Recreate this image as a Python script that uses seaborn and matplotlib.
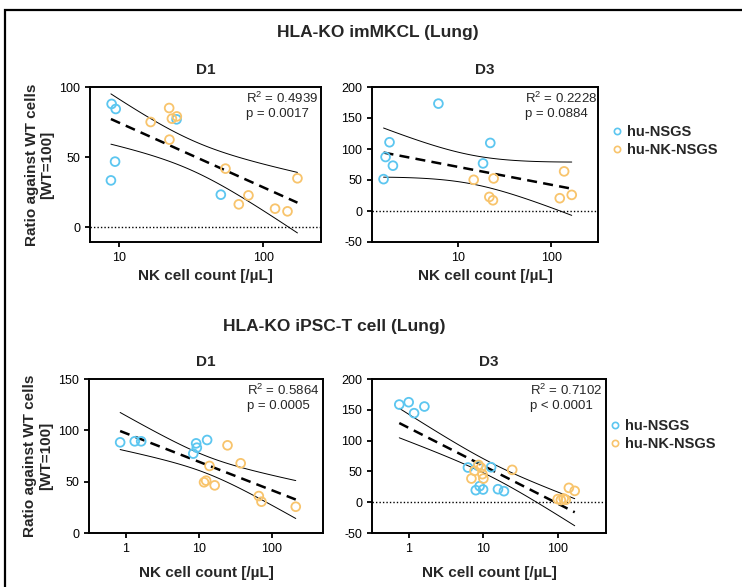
"""NK cell count vs ratio against WT cells, HLA-KO imMKCL / iPSC-T cell (Lung)."""

import numpy as np
import pandas as pd
import matplotlib

matplotlib.use("Agg")
import matplotlib.pyplot as plt
import seaborn as sns
from matplotlib.lines import Line2D
from matplotlib.patches import Rectangle

# imMKCL, D1
mk_d1_nsgs_x = [8.9, 9.5, 9.4, 8.8, 25.1, 50.9]
mk_d1_nsgs_y = [87.9, 84.3, 46.7, 33.3, 76.9, 23.1]
mk_d1_nk_x = [16.6, 22.3, 23.3, 25.2, 22.4, 54.8, 67.8, 79.1, 121, 147.6, 173]
mk_d1_nk_y = [75, 85, 77.4, 79, 62.4, 41.7, 16.2, 22.6, 13.1, 11.2, 34.8]

# imMKCL, D3
mk_d3_nsgs_x = [1.57, 1.65, 1.82, 1.98, 6.1, 18.4, 22.0]
mk_d3_nsgs_y = [51.4, 87.1, 110.9, 73.1, 173.2, 76.8, 109.8]
mk_d3_nk_x = [14.6, 23.9, 21.5, 23.5, 122.7, 136.7, 165]
mk_d3_nk_y = [50.3, 52.5, 22.7, 17.3, 20.6, 63.9, 26.0]

# iPSC-T, D1
t_d1_nsgs_x = [0.84, 1.33, 1.63, 8.4, 9.2, 9.4, 13.0]
t_d1_nsgs_y = [88.3, 89.3, 89.3, 77.3, 87.3, 83.1, 90.6]
t_d1_nk_x = [24.7, 37.4, 14.0, 12.6, 11.8, 16.5, 66.2, 72.0, 212]
t_d1_nk_y = [85.4, 67.9, 65.3, 51.0, 49.4, 46.4, 36.0, 30.5, 25.6]

# iPSC-T, D3
t_d3_nsgs_x = [0.74, 0.99, 1.17, 1.61, 6.2, 8.5, 12.7, 8.9, 7.9, 9.9, 15.7, 18.9]
t_d3_nsgs_y = [158.5, 162.3, 144.5, 155.3, 56.3, 59.0, 56.8, 26.0, 19.5, 20.6, 21.1, 17.9]
t_d3_nk_x = [6.9, 7.6, 8.6, 9.3, 9.7, 10.0, 24.4, 100, 110, 120, 128, 141, 169]
t_d3_nk_y = [38.4, 50.9, 60.5, 56, 45.5, 38.4, 52.5, 5, 3.5, 6, 4, 23.3, 18.4]

stats_text = [
    "R$^2$ = 0.4939\np = 0.0017",
    "R$^2$ = 0.2228\np = 0.0884",
    "R$^2$ = 0.5864\np = 0.0005",
    "R$^2$ = 0.7102\np < 0.0001",
]
groups = ["hu-NSGS", "hu-NK-NSGS"]
palette = {"hu-NSGS": "#5cc6f0", "hu-NK-NSGS": "#f8c46c"}

# two-sided 95% t critical values
T_CRIT = {10: 2.228, 11: 2.201, 12: 2.179, 13: 2.160, 14: 2.145, 15: 2.131,
          16: 2.120, 17: 2.110, 18: 2.101, 19: 2.093, 20: 2.086, 21: 2.080,
          22: 2.074, 23: 2.069, 24: 2.064, 25: 2.060, 26: 2.056}

sns.set_style("ticks")
plt.rcParams["font.family"] = ["Liberation Sans", "DejaVu Sans"]
plt.rcParams["mathtext.fontset"] = "custom"
plt.rcParams["mathtext.rm"] = "Liberation Sans"
plt.rcParams["axes.unicode_minus"] = False


def make_frame(nsgs_x, nsgs_y, nk_x, nk_y):
    return pd.DataFrame({
        "nk": list(nsgs_x) + list(nk_x),
        "ratio": list(nsgs_y) + list(nk_y),
        "group": [groups[0]] * len(nsgs_x) + [groups[1]] * len(nk_x),
    })


def draw_panel(ax, df, title, text, xlim, ylim, yticks, xticks, xpad):
    sns.scatterplot(data=df, x="nk", y="ratio", hue="group", palette=palette,
                    s=40, linewidth=1.3, ax=ax, legend=False, zorder=3)
    coll = ax.collections[-1]
    coll.set_edgecolors(coll.get_facecolors())
    coll.set_facecolors("none")

    # linear fit on log10(x) with 95% CI of the mean
    lx = np.log10(df["nk"].to_numpy())
    y = df["ratio"].to_numpy()
    n = len(lx)
    slope, inter = np.polyfit(lx, y, 1)
    resid = y - (inter + slope * lx)
    s = np.sqrt(np.sum(resid ** 2) / (n - 2))
    sxx = np.sum((lx - lx.mean()) ** 2)
    grid = np.linspace(lx.min(), lx.max(), 100)
    fit = inter + slope * grid
    half = T_CRIT[n - 2] * s * np.sqrt(1 / n + (grid - lx.mean()) ** 2 / sxx)
    xs = 10 ** grid
    ax.plot(xs, fit, color="black", lw=1.8, ls=(0, (4, 2.5)), zorder=2)
    ax.plot(xs, fit + half, color="black", lw=0.7, zorder=2)
    ax.plot(xs, fit - half, color="black", lw=0.7, zorder=2)

    ax.axhline(0, color="black", lw=1.0, ls=(0, (1, 1.5)), zorder=1)
    ax.set_xscale("log")
    ax.set_xlim(*xlim)
    ax.set_ylim(*ylim)
    ax.set_yticks(yticks)
    ax.set_xticks(xticks)
    ax.set_xticklabels([f"{t:g}" for t in xticks])
    ax.minorticks_off()
    ax.tick_params(labelsize=9, width=1.3, length=3.5, direction="out", colors="black")
    for sp in ax.spines.values():
        sp.set_linewidth(1.4)
        sp.set_color("black")
    ax.set_title(title, fontsize=11, fontweight="bold", pad=9)
    ax.set_xlabel("NK cell count [/µL]", fontsize=11, fontweight="bold", labelpad=xpad)
    ax.set_ylabel("")
    ax.text(0.675, 0.975, text, transform=ax.transAxes, ha="left", va="top",
            fontsize=9.5, linespacing=1.2)


W, H = 742, 587
fig = plt.figure(figsize=(W / 100, H / 100), dpi=100)


def add_axes(left, right, top, bottom):
    return fig.add_axes([left / W, (H - bottom) / H, (right - left) / W, (bottom - top) / H])


ax1 = add_axes(90, 321, 87, 242)
ax2 = add_axes(372, 598, 87, 242)
ax3 = add_axes(89, 323, 379, 533)
ax4 = add_axes(372, 606, 379, 533)

draw_panel(ax1, make_frame(mk_d1_nsgs_x, mk_d1_nsgs_y, mk_d1_nk_x, mk_d1_nk_y),
           "D1", stats_text[0], (6.3, 252), (-10.7, 100), [0, 50, 100], [10, 100], 4)
draw_panel(ax2, make_frame(mk_d3_nsgs_x, mk_d3_nsgs_y, mk_d3_nk_x, mk_d3_nk_y),
           "D3", stats_text[1], (1.18, 316), (-50, 200), [-50, 0, 50, 100, 150, 200], [10, 100], 4)
draw_panel(ax3, make_frame(t_d1_nsgs_x, t_d1_nsgs_y, t_d1_nk_x, t_d1_nk_y),
           "D1", stats_text[2], (0.315, 500), (0, 150), [0, 50, 100, 150], [1, 10, 100], 8)
draw_panel(ax4, make_frame(t_d3_nsgs_x, t_d3_nsgs_y, t_d3_nk_x, t_d3_nk_y),
           "D3", stats_text[3], (0.318, 445), (-50, 200), [-50, 0, 50, 100, 150, 200], [1, 10, 100], 8)

for ax in (ax1, ax3):
    ax.set_ylabel("Ratio against WT cells\n[WT=100]", fontsize=11, fontweight="bold",
                  linespacing=1.15)
    ax.yaxis.set_label_coords(-0.155, 0.5)

fig.text(378 / W, 1 - 32 / H, "HLA-KO imMKCL (Lung)", ha="center", va="center",
         fontsize=12.5, fontweight="bold")
fig.text(334 / W, 1 - 326 / H, "HLA-KO iPSC-T cell (Lung)", ha="center", va="center",
         fontsize=12.5, fontweight="bold")

handles = [Line2D([], [], marker="o", ls="none", mfc="none", mec=palette[g],
                  markersize=4.5, mew=1.2) for g in groups]
for lx0, ty in ((611, 125), (609, 419)):
    fig.legend(handles, groups, loc="upper left", bbox_to_anchor=(lx0 / W, 1 - ty / H),
               bbox_transform=fig.transFigure, frameon=False, borderpad=0,
               borderaxespad=0, handletextpad=0.3, handlelength=0.8,
               prop={"weight": "bold", "size": 10.5}, labelspacing=0.28)

fig.patches.append(Rectangle((5 / W, -0.05), 1.2, 1 - 10 / H + 0.05,
                             transform=fig.transFigure, fill=False,
                             edgecolor="black", lw=1.6))

fig.savefig("out.png", dpi=100)
